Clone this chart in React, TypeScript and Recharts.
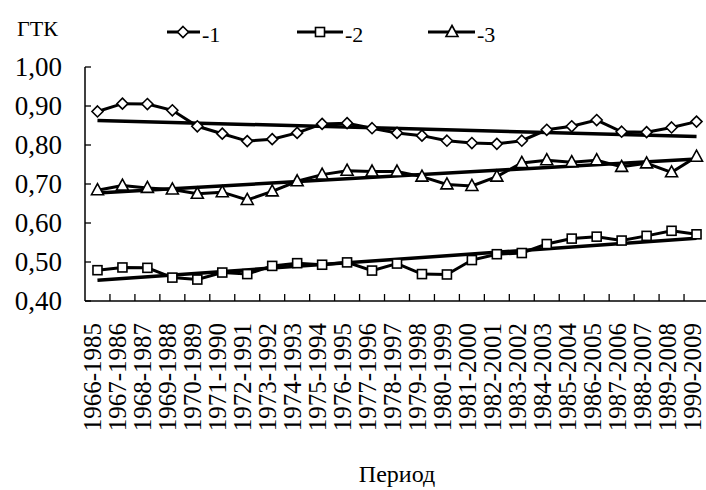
import React from 'react';
import { LineChart, Line, XAxis, YAxis, Legend } from 'recharts';

const categories = [
  '1966-1985', '1967-1986', '1968-1987', '1969-1988', '1970-1989', '1971-1990', '1972-1991',
  '1973-1992', '1974-1993', '1975-1994', '1976-1995', '1977-1996', '1978-1997', '1979-1998',
  '1980-1999', '1981-2000', '1982-2001', '1983-2002', '1984-2003', '1985-2004', '1986-2005',
  '1987-2006', '1988-2007', '1989-2008', '1990-2009',
];
const series1 = [0.886, 0.906, 0.905, 0.889, 0.848, 0.829, 0.810, 0.815, 0.831, 0.854, 0.856, 0.843, 0.831,
  0.824, 0.811, 0.805, 0.803, 0.811, 0.839, 0.848, 0.864, 0.834, 0.833, 0.845, 0.860];
const series2 = [0.479, 0.486, 0.485, 0.460, 0.455, 0.473, 0.469, 0.490, 0.497, 0.493, 0.499, 0.478, 0.496,
  0.469, 0.468, 0.505, 0.520, 0.523, 0.546, 0.560, 0.565, 0.555, 0.567, 0.580, 0.571];
const series3 = [0.684, 0.696, 0.690, 0.686, 0.675, 0.679, 0.659, 0.681, 0.707, 0.724, 0.734, 0.732, 0.732,
  0.719, 0.699, 0.695, 0.719, 0.754, 0.761, 0.756, 0.761, 0.744, 0.753, 0.730, 0.770];
const trend1 = [0.863, 0.822];
const trend2 = [0.453, 0.561];
const trend3 = [0.677, 0.764];
const yTicks = [0.4, 0.5, 0.6, 0.7, 0.8, 0.9, 1.0];
const legendNames = ['-1', '-2', '-3'];

const last = categories.length - 1;
const data = categories.map((period, i) => ({
  period,
  s1: series1[i],
  s2: series2[i],
  s3: series3[i],
  t1: i === 0 ? trend1[0] : i === last ? trend1[1] : null,
  t2: i === 0 ? trend2[0] : i === last ? trend2[1] : null,
  t3: i === 0 ? trend3[0] : i === last ? trend3[1] : null,
}));

const FONT = "'Liberation Serif', 'Times New Roman', Times, Tinos, 'Noto Serif', 'DejaVu Serif', FreeSerif, serif";
const txt = (size: number) => ({ fontFamily: FONT, fontSize: size });

const Diamond = ({ cx, cy }: any) => (
  <polygon points={`${cx},${cy - 5.5} ${cx + 5.5},${cy} ${cx},${cy + 5.5} ${cx - 5.5},${cy}`}
    fill="#fff" stroke="#000" strokeWidth={1.6} />
);
const Square = ({ cx, cy }: any) => (
  <rect x={cx - 4.5} y={cy - 4.5} width={9} height={9} fill="#fff" stroke="#000" strokeWidth={1.6} />
);
const Triangle = ({ cx, cy }: any) => (
  <polygon points={`${cx},${cy - 6.5} ${cx + 6},${cy + 4.5} ${cx - 6},${cy + 4.5}`}
    fill="#fff" stroke="#000" strokeWidth={1.6} />
);

const XTick = ({ x, y, payload }: any) => (
  <g>
    <line x1={x + 12.48} y1={y} x2={x + 12.48} y2={y - 7} stroke="#000" strokeWidth={1.3} />
    <text x={x + 4} y={323} transform={`rotate(-90, ${x + 4}, 323)`} textAnchor="end"
      style={txt(25)} fill="#000">{payload.value}</text>
  </g>
);

const YTick = ({ x, y, payload }: any) => (
  <g>
    <line x1={x} y1={y} x2={x + 6} y2={y} stroke="#000" strokeWidth={1.3} />
    <text x={62} y={y + 9} textAnchor="end" style={txt(27)} fill="#000">
      {payload.value.toFixed(2).replace('.', ',')}
    </text>
  </g>
);

const LegendContent = () => {
  const items = [
    { x1: 167, x2: 200, m: 183, tx: 202, Shape: Diamond },
    { x1: 297, x2: 343, m: 320, tx: 345, Shape: Square },
    { x1: 428, x2: 475, m: 452, tx: 477, Shape: Triangle },
  ];
  return (
    <svg width={706} height={60} style={{ display: 'block' }}>
      <text x={17} y={36} style={txt(22)} fill="#000">ГТК</text>
      {items.map((it, i) => (
        <g key={i}>
          <line x1={it.x1} y1={32} x2={it.x2} y2={32} stroke="#000" strokeWidth={3} />
          <it.Shape cx={it.m} cy={32} />
          <text x={it.tx} y={42} style={txt(22)} fill="#000">{legendNames[i]}</text>
        </g>
      ))}
    </svg>
  );
};

export default function App() {
  return (
    <div style={{ position: 'absolute', left: 0, top: 0, width: 706, height: 490, overflow: 'hidden', background: '#fff' }}>
      <LineChart width={720} height={490} data={data} margin={{ top: 7, right: 11, bottom: 0, left: 0 }}>
        <XAxis dataKey="period" interval={0} height={189} tickSize={0} tickMargin={0}
          padding={{ left: 12.48, right: 12.48 }} tick={<XTick />}
          axisLine={{ stroke: '#000', strokeWidth: 1.5 }}
          label={{ value: 'Период', position: 'insideBottom', offset: 8, style: txt(24), fill: '#000' }} />
        <YAxis domain={[0.4, 1.0]} ticks={yTicks} width={85} tickSize={0} tickMargin={0}
          tick={<YTick />} axisLine={{ stroke: '#000', strokeWidth: 1.5 }} interval={0} />
        <Legend verticalAlign="top" align="left" content={<LegendContent />}
          wrapperStyle={{ top: 0, left: 0, width: 706, height: 60 }} />
        <Line dataKey="t1" type="linear" stroke="#000" strokeWidth={3.5} dot={false} activeDot={false} connectNulls isAnimationActive={false} legendType="none" />
        <Line dataKey="t2" type="linear" stroke="#000" strokeWidth={3.5} dot={false} activeDot={false} connectNulls isAnimationActive={false} legendType="none" />
        <Line dataKey="t3" type="linear" stroke="#000" strokeWidth={3.5} dot={false} activeDot={false} connectNulls isAnimationActive={false} legendType="none" />
        <Line dataKey="s1" type="linear" stroke="#000" strokeWidth={3} dot={<Diamond />} activeDot={false} isAnimationActive={false} />
        <Line dataKey="s2" type="linear" stroke="#000" strokeWidth={3} dot={<Square />} activeDot={false} isAnimationActive={false} />
        <Line dataKey="s3" type="linear" stroke="#000" strokeWidth={3} dot={<Triangle />} activeDot={false} isAnimationActive={false} />
      </LineChart>
    </div>
  );
}
